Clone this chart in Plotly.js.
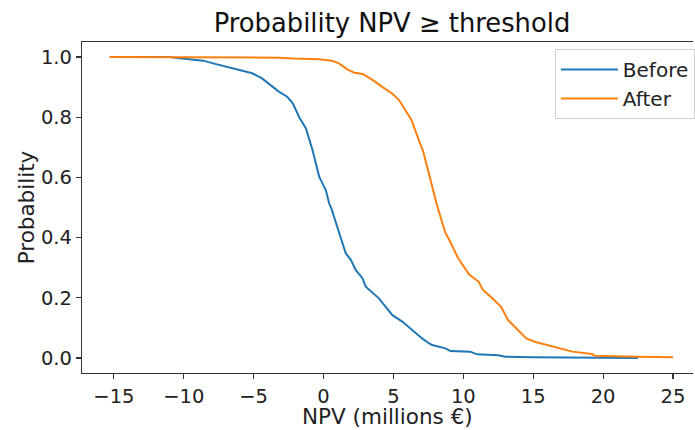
<!DOCTYPE html>
<html>
<head>
<meta charset="utf-8">
<script src="https://cdn.plot.ly/plotly-3.0.1.min.js"></script>
<style>
html, body { margin: 0; padding: 0; overflow: hidden; background: #fff; }
#chart { width: 695px; height: 430px; }
</style>
</head>
<body>
<div id="chart"></div>
<script>
// Before: survival curve P(NPV >= threshold)
const beforeX = [-15.3, -11.0, -10.3, -8.6, -7.9, -7.0, -6.0, -5.1, -4.4, -3.9, -3.2, -2.6, -2.2, -1.74, -1.26, -0.79, -0.67, -0.31, -0.19, 0.16, 0.40, 0.56, 1.11, 1.59, 1.95, 2.31, 2.78, 3.02, 3.96, 4.91, 5.63, 6.34, 6.82, 7.05, 7.53, 7.77, 8.72, 9.08, 10.5, 10.97, 12.5, 13.0, 14.9, 22.5];
const beforeY = [1.0, 1.0, 0.996, 0.988, 0.979, 0.968, 0.957, 0.946, 0.929, 0.910, 0.885, 0.868, 0.846, 0.80, 0.763, 0.691, 0.669, 0.602, 0.591, 0.558, 0.514, 0.497, 0.417, 0.348, 0.326, 0.292, 0.265, 0.237, 0.198, 0.143, 0.121, 0.093, 0.071, 0.065, 0.049, 0.043, 0.032, 0.023, 0.021, 0.012, 0.009, 0.004, 0.002, 0.0];

// After
const afterX = [-15.3, -5.3, -3.2, -2.2, -0.3, 0.6, 1.1, 1.7, 2.2, 2.8, 3.5, 4.2, 4.9, 5.4, 5.9, 6.3, 6.9, 7.1, 7.5, 8.1, 8.7, 9.0, 9.6, 10.4, 11.1, 11.4, 12.0, 12.7, 13.2, 13.8, 14.5, 15.1, 16.0, 16.8, 17.8, 19.2, 19.4, 22.5, 25.0];
const afterY = [1.0, 1.0, 0.998, 0.995, 0.993, 0.988, 0.979, 0.959, 0.948, 0.944, 0.924, 0.901, 0.879, 0.857, 0.818, 0.790, 0.713, 0.691, 0.620, 0.510, 0.418, 0.392, 0.334, 0.278, 0.253, 0.226, 0.202, 0.170, 0.126, 0.099, 0.065, 0.054, 0.043, 0.032, 0.021, 0.013, 0.007, 0.004, 0.002];

const xTickVals = [-15, -10, -5, 0, 5, 10, 15, 20, 25];
const xTickText = ["\u221215", "\u221210", "\u22125", "0", "5", "10", "15", "20", "25"];
const yTickVals = [0, 0.2, 0.4, 0.6, 0.8, 1.0];
const yTickText = ["0.0", "0.2", "0.4", "0.6", "0.8", "1.0"];
const xTitle = "NPV (millions \u20ac)";

const FONT = "DejaVu Sans, sans-serif";

const traces = [
  { x: beforeX, y: beforeY, name: "Before", mode: "lines", type: "scatter",
    line: { color: "#1f77b4", width: 2 } },
  { x: afterX, y: afterY, name: "After", mode: "lines", type: "scatter",
    line: { color: "#ff7f0e", width: 2 } }
];

const axisCommon = {
  showgrid: false, zeroline: false, showline: true,
  linecolor: "#333", linewidth: 1.2, ticks: "outside", ticklen: 5,
  tickwidth: 1.2, tickcolor: "#333",
  tickfont: { family: FONT, size: 19.5, color: "#222" }
};

const layout = {
  width: 695, height: 430,
  margin: { l: 82, r: 0, t: 42, b: 57 },
  paper_bgcolor: "#fff", plot_bgcolor: "#fff",
  font: { family: FONT, color: "#222" },
  title: { text: "Probability NPV \u2265 threshold", font: { family: FONT, size: 25.8, color: "#111" },
           x: 0.564, xref: "container", xanchor: "center", y: 0.947, yref: "container", yanchor: "middle" },
  xaxis: Object.assign({}, axisCommon, {
    mirror: true,
    range: [-17.28, 26.43], tickmode: "array", tickvals: xTickVals, ticktext: xTickText
  }),
  yaxis: Object.assign({}, axisCommon, {
    mirror: false,
    range: [-0.05, 1.05], tickmode: "array", tickvals: yTickVals, ticktext: yTickText,
    title: { text: "Probability", font: { family: FONT, size: 21.5, color: "#222" }, standoff: 0 }
  }),
  annotations: [{
    text: xTitle, xref: "paper", yref: "paper", x: 0.5, y: -0.132,
    xanchor: "center", yanchor: "middle", showarrow: false, borderpad: 0,
    font: { family: FONT, size: 21.5, color: "#222" }
  }],
  showlegend: true,
  legend: {
    x: 1.003, xanchor: "right", y: 0.979, yanchor: "top",
    itemwidth: 57, tracegroupgap: 0,
    bgcolor: "rgba(255,255,255,0.8)", bordercolor: "#d0d0d0", borderwidth: 1,
    font: { family: FONT, size: 20, color: "#222" }
  }
};

Plotly.newPlot("chart", traces, layout, { displayModeBar: false, staticPlot: true });
</script>
</body>
</html>
